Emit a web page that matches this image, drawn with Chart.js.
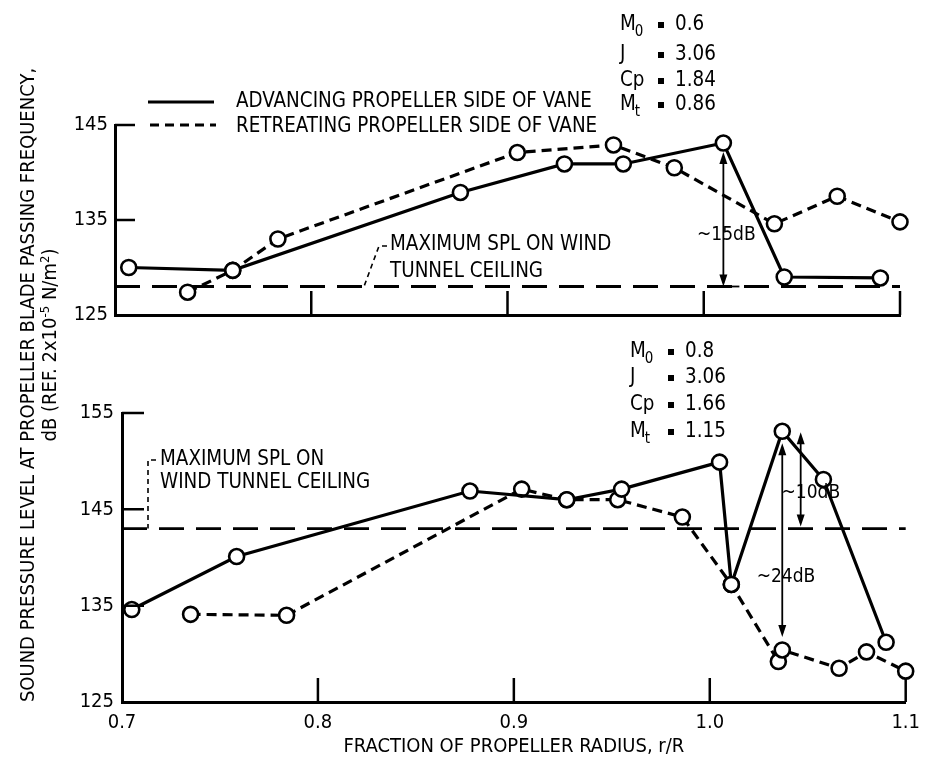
<!DOCTYPE html>
<html>
<head>
<meta charset="utf-8">
<script src="https://cdn.jsdelivr.net/npm/chart.js@4.4.0/dist/chart.umd.min.js"></script>
<style>
  body { margin: 0; background: #fff; }
  #page { position: relative; width: 929px; height: 757px; overflow: hidden; background: #fff;
          font-family: "Liberation Sans Narrow", "DejaVu Sans Condensed", sans-serif; color: #000; }
  canvas { position: absolute; left: 0; }
  #topChart { top: 0; }
  #botChart { top: 340px; }
  .ytitle { position: absolute; white-space: nowrap; font-size: 20px; line-height: 20px;
            transform: translate(-50%, -50%) rotate(-90deg); }
</style>
</head>
<body>
<div id="page">
  <canvas id="topChart" width="929" height="340"></canvas>
  <canvas id="botChart" width="929" height="417"></canvas>
  <div class="ytitle" style="left:27px; top:385px;">SOUND PRESSURE LEVEL AT PROPELLER BLADE PASSING FREQUENCY,</div>
  <div class="ytitle" style="left:47px; top:345px;">dB (REF. 2x10<sup style="font-size:13px">-5</sup> N/m<sup style="font-size:13px">2</sup>)</div>
</div>
<script>
const FONT = '"Liberation Sans Narrow", "DejaVu Sans Condensed", sans-serif';
Chart.defaults.font.family = FONT;
Chart.defaults.color = '#000';

// axes
const xTicks = [0.7, 0.8, 0.9, 1.0, 1.1];
const topYTicks = [125, 135, 145];
const botYTicks = [125, 135, 145, 155];

// upper panel (M0 = 0.6)
const topAdvR   = [0.707, 0.760, 0.876, 0.929, 0.959, 1.010, 1.041, 1.090];
const topAdvSpl = [130.0, 129.7, 137.9, 140.9, 140.9, 143.1, 129.0, 128.9];
const topRetR   = [0.737, 0.760, 0.783, 0.905, 0.954, 0.985, 1.036, 1.068, 1.100];
const topRetSpl = [127.4, 129.7, 133.0, 142.1, 142.9, 140.5, 134.6, 137.5, 134.8];
const topCeilR   = [0.7, 1.1];
const topCeilSpl = [128.0, 128.0];

// lower panel (M0 = 0.8)
const botAdvR   = [0.705, 0.7585, 0.8776, 0.927, 0.955, 1.005, 1.011, 1.037, 1.058, 1.090];
const botAdvSpl = [134.6, 140.1, 146.9, 146.0, 147.1, 149.9, 137.2, 153.1, 148.1, 131.2];
const botRetR   = [0.735, 0.784, 0.904, 0.927, 0.953, 0.986, 1.011, 1.035, 1.037, 1.066, 1.080, 1.100];
const botRetSpl = [134.1, 134.0, 147.1, 146.0, 146.0, 144.2, 137.2, 129.2, 130.4, 128.5, 130.2, 128.2];
const botCeilR   = [0.7, 1.1];
const botCeilSpl = [143.0, 143.0];

// test conditions
const condNames = ['M', 'J', 'Cp', 'M'];
const condSubs  = ['0', '', '', 't'];
const topCondValues = ['0.6', '3.06', '1.84', '0.86'];
const botCondValues = ['0.8', '3.06', '1.66', '1.15'];

const pts = (xs, ys) => xs.map((x, i) => ({ x: x, y: ys[i] }));

const lineSet = (xs, ys, dash) => ({
  data: pts(xs, ys),
  borderColor: '#000',
  borderWidth: 3.2,
  borderDash: dash,
  pointRadius: 7.5,
  pointBorderWidth: 2.6,
  pointBackgroundColor: '#fff',
  pointBorderColor: '#000',
  tension: 0,
  clip: false,
  order: 1
});

const ceilSet = (xs, ys) => ({
  data: pts(xs, ys),
  borderColor: '#000',
  borderWidth: 2.8,
  borderDash: [25, 12],
  pointRadius: 0,
  tension: 0,
  clip: false,
  order: 3
});

function makeOptions(yMin, yMax, yTicks, padding, yWidth, yPad, xHeight, showX) {
  return {
    responsive: false,
    animation: false,
    devicePixelRatio: 1,
    layout: { padding: padding },
    plugins: { legend: { display: false }, tooltip: { enabled: false } },
    scales: {
      x: {
        type: 'linear', min: 0.7, max: 1.1,
        afterBuildTicks: s => { s.ticks = xTicks.map(v => ({ value: v })); },
        afterFit: s => { s.height = xHeight; },
        grid: { display: false, drawTicks: false },
        border: { display: true, color: '#000', width: 3 },
        ticks: { display: showX, padding: 9, font: { size: 20 }, color: '#000',
                 maxRotation: 0, callback: v => v.toFixed(1) },
        title: { display: showX, text: 'FRACTION OF PROPELLER RADIUS, r/R',
                 font: { size: 20, lineHeight: 1 }, color: '#000', padding: { top: 0, bottom: 0 } }
      },
      y: {
        min: yMin, max: yMax,
        afterBuildTicks: s => { s.ticks = yTicks.map(v => ({ value: v })); },
        afterFit: s => { s.width = yWidth; },
        grid: { display: false, drawTicks: false },
        border: { display: true, color: '#000', width: 3 },
        ticks: { padding: yPad, font: { size: 20 }, color: '#000' }
      }
    }
  };
}

// drawing helpers
function txt(ctx, s, x, y, align, size) {
  ctx.font = (size || 20.4) + 'px ' + FONT;
  ctx.textAlign = align || 'left';
  ctx.textBaseline = 'middle';
  ctx.fillStyle = '#000';
  ctx.fillText(s, x, y);
}

function inwardTicks(chart, yVals, yLen, xVals, xLen) {
  const { ctx, chartArea: a, scales: { x, y } } = chart;
  ctx.save();
  ctx.strokeStyle = '#000';
  ctx.lineWidth = 2.5;
  ctx.setLineDash([]);
  ctx.beginPath();
  yVals.forEach(v => { const py = y.getPixelForValue(v); ctx.moveTo(a.left, py); ctx.lineTo(a.left + yLen, py); });
  xVals.forEach(v => { const px = x.getPixelForValue(v); ctx.moveTo(px, a.bottom); ctx.lineTo(px, a.bottom - xLen); });
  ctx.stroke();
  ctx.restore();
}

function head(ctx, x, y, dir) {
  ctx.beginPath();
  ctx.moveTo(x, y);
  ctx.lineTo(x - 4, y + dir * 12);
  ctx.lineTo(x + 4, y + dir * 12);
  ctx.closePath();
  ctx.fill();
}

function arrow(ctx, x, y1, y2) {
  ctx.save();
  ctx.strokeStyle = '#000';
  ctx.fillStyle = '#000';
  ctx.lineWidth = 1.8;
  ctx.setLineDash([]);
  ctx.beginPath();
  ctx.moveTo(x, y1 + 4);
  ctx.lineTo(x, y2 - 4);
  ctx.stroke();
  head(ctx, x, y1, 1);
  head(ctx, x, y2, -1);
  ctx.restore();
}

function conditions(ctx, values, x0, rows) {
  rows.forEach((ry, i) => {
    txt(ctx, condNames[i], x0, ry);
    if (condSubs[i]) {
      const w = ctx.measureText(condNames[i]).width;
      txt(ctx, condSubs[i], x0 + w - 1, ry + 7, 'left', 15);
    }
    ctx.fillRect(x0 + 38, ry - 3, 6, 6);
    txt(ctx, values[i], x0 + 55, ry);
  });
}

function leader(ctx, path) {
  ctx.save();
  ctx.strokeStyle = '#000';
  ctx.lineWidth = 1.6;
  ctx.setLineDash([5, 4]);
  ctx.beginPath();
  path.forEach((p, i) => i ? ctx.lineTo(p[0], p[1]) : ctx.moveTo(p[0], p[1]));
  ctx.stroke();
  ctx.restore();
}

const topDecor = {
  id: 'topDecor',
  afterDraw(chart) {
    const { ctx, chartArea: a, scales: { x, y } } = chart;
    inwardTicks(chart, [145, 135], 20, [0.8, 0.9, 1.0, 1.1], 24);

    // legend
    ctx.save();
    ctx.strokeStyle = '#000';
    ctx.lineWidth = 3.2;
    ctx.beginPath(); ctx.moveTo(148, 102); ctx.lineTo(214, 102); ctx.stroke();
    ctx.setLineDash([9, 6]);
    ctx.beginPath(); ctx.moveTo(150, a.top); ctx.lineTo(216, a.top); ctx.stroke();
    ctx.restore();
    txt(ctx, 'ADVANCING PROPELLER SIDE OF VANE', 236, 102);
    txt(ctx, 'RETREATING PROPELLER SIDE OF VANE', 236, 127);

    conditions(ctx, topCondValues, 620, [25, 55, 81, 105]);

    // ceiling note
    const cy = y.getPixelForValue(topCeilSpl[0]);
    txt(ctx, 'MAXIMUM SPL ON WIND', 390, 245);
    txt(ctx, 'TUNNEL CEILING', 390, 272);
    leader(ctx, [[387, 246], [379, 246], [364, cy]]);

    // ~15 dB
    const ax = x.getPixelForValue(1.010);
    arrow(ctx, ax, y.getPixelForValue(143.1) + 9, cy);
    ctx.save();
    ctx.lineWidth = 1.8;
    ctx.beginPath(); ctx.moveTo(ax, cy); ctx.lineTo(ax + 16, cy); ctx.stroke();
    ctx.restore();
    txt(ctx, '~15dB', ax + 3, y.getPixelForValue(133.4), 'center', 19);
  }
};

const botDecor = {
  id: 'botDecor',
  afterDraw(chart) {
    const { ctx, chartArea: a, scales: { x, y } } = chart;
    inwardTicks(chart, [155, 145, 135], 22, [0.8, 0.9, 1.0, 1.1], 24);

    conditions(ctx, botCondValues, 630, [12, 38, 65, 92]);

    const cy = y.getPixelForValue(botCeilSpl[0]);
    txt(ctx, 'MAXIMUM SPL ON', 160, 120);
    txt(ctx, 'WIND TUNNEL CEILING', 160, 143);
    leader(ctx, [[156, 120], [148, 120], [148, cy]]);

    // ~10 dB and ~24 dB
    const peak = y.getPixelForValue(153.1);
    arrow(ctx, x.getPixelForValue(1.0464), peak + 1, cy - 2);
    txt(ctx, '~10dB', x.getPixelForValue(1.0516), y.getPixelForValue(146.7), 'center', 19);
    const ax = x.getPixelForValue(1.037);
    arrow(ctx, ax, peak + 12, y.getPixelForValue(130.4) - 13);
    txt(ctx, '~24dB', x.getPixelForValue(1.0389), y.getPixelForValue(138.0), 'center', 19);
  }
};

new Chart(document.getElementById('topChart'), {
  type: 'line',
  data: { datasets: [
    lineSet(topAdvR, topAdvSpl, []),
    lineSet(topRetR, topRetSpl, [10, 6]),
    ceilSet(topCeilR, topCeilSpl)
  ] },
  options: makeOptions(125, 145, topYTicks, { left: 0, right: 29, top: 125, bottom: 0 }, 115, 7, 25, false),
  plugins: [topDecor]
});

new Chart(document.getElementById('botChart'), {
  type: 'line',
  data: { datasets: [
    lineSet(botAdvR, botAdvSpl, []),
    lineSet(botRetR, botRetSpl, [10, 6]),
    ceilSet(botCeilR, botCeilSpl)
  ] },
  options: makeOptions(125, 155, botYTicks, { left: 0, right: 22, top: 73, bottom: 0 }, 122, 8, 55, true),
  plugins: [botDecor]
});
</script>
</body>
</html>
